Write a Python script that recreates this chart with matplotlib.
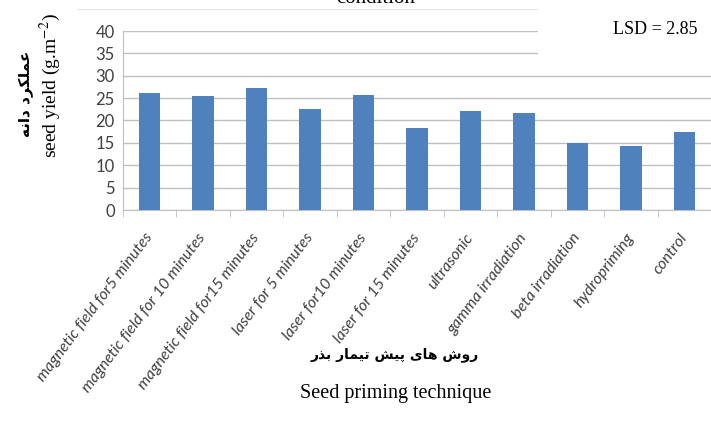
import matplotlib
matplotlib.use("Agg")
import matplotlib.pyplot as plt
import numpy as np

categories = ["magnetic field for5 minutes", "magnetic field for 10 minutes",
              "magnetic field for15 minutes", "laser for 5 minutes",
              "laser for10 minutes", "laser for 15 minutes", "ultrasonic",
              "gamma irradiation", "beta irradiation", "hydropriming", "control"]
values = [26.1, 25.5, 27.3, 22.6, 25.7, 18.3, 22.2, 21.7, 15.0, 14.4, 17.4]
yticks = [0, 5, 10, 15, 20, 25, 30, 35, 40]

# Persian labels in presentation forms, visual (left-to-right) order
fa_ylabel = "\uFEEA\uFEE7\uFE8D\uFEA9 \uFEA9\uFEAE\uFB91\uFEE0\uFEE4\uFECB"
fa_xlabel = ("\uFEAD\uFEAC\uFE91 \uFEAD\uFE8E\uFEE4\uFEF4\uFE97 "
             "\uFEB6\uFEF4\uFB58 \uFEEF\uFE8E\uFEEB \uFEB5\uFEED\uFEAD")

plt.rcParams["mathtext.fontset"] = "stix"

fig = plt.figure(figsize=(7.11, 4.23), dpi=100)
ax = fig.add_axes([123/711, 1-210/423, 588/711, 179/423])

x = np.arange(len(categories))
ax.bar(x, values, width=0.4, color="#4F81BD", zorder=3)
ax.set_xlim(-0.5, len(categories)-0.5)
ax.set_ylim(0, 40)
ax.set_yticks(yticks)
ax.set_yticklabels([str(v) for v in yticks], fontsize=12, color="#404040", family="Lato")
ax.yaxis.grid(True, color="#BFBFBF", lw=1, zorder=0)
ax.tick_params(axis="y", length=0, pad=6)
ax.set_xticks(np.arange(len(categories)+1)-0.5, minor=True)
ax.set_xticks(x)
ax.set_xticklabels(categories, rotation=53, ha="right", va="center",
                   rotation_mode="anchor", fontsize=11.5, style="italic",
                   color="#404040", family="Lato")
ax.tick_params(axis="x", which="major", length=0, pad=18)
ax.tick_params(axis="x", which="minor", length=5, color="#BFBFBF")
for s in ["top", "right"]:
    ax.spines[s].set_visible(False)
ax.spines["left"].set_color("#BFBFBF")
ax.spines["bottom"].set_color("#BFBFBF")

# white box behind LSD text
fig.patches.append(plt.Rectangle((538/711, 1-60/423), 173/711, 60/423,
                                 transform=fig.transFigure, facecolor="white",
                                 edgecolor="none", zorder=5))
fig.add_artist(plt.Line2D([77/711, 538/711], [1-9/423, 1-9/423], color="#E6E6E6",
                          lw=0.8, transform=fig.transFigure))
fig.text(655/711, 1-30/423, "LSD = 2.85", family="Liberation Serif", fontsize=13,
         ha="center", va="center", zorder=6)
fig.text(376/711, 1-3/423, "condition", family="Liberation Serif", fontsize=15,
         ha="center", va="baseline")

fig.text(26/711, 1-94/423, fa_ylabel, family="DejaVu Sans", fontweight="bold",
         fontsize=11, rotation=90, ha="center", va="center")
fig.text(50/711, 1-86/423, "seed yield (g.m$^{-2}$)", family="Liberation Serif",
         fontsize=14, rotation=90, ha="center", va="center")
fig.text(395/711, 1-355/423, fa_xlabel, family="DejaVu Sans", fontweight="bold",
         fontsize=10, ha="center", va="center")
fig.text(396/711, 1-393/423, "Seed priming technique", family="Liberation Serif",
         fontsize=14.5, ha="center", va="center")

fig.savefig("out.png", dpi=100)
